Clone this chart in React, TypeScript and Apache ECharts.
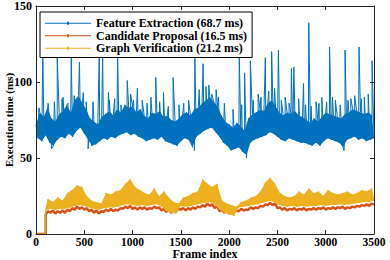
import React, { useEffect, useRef } from "react";
import * as echarts from "echarts";

const seriesNames = [
  "Feature Extraction (68.7 ms)",
  "Candidate Proposal (16.5 ms)",
  "Graph Verification (21.2 ms)",
];

// Feature extraction band: upper envelope at frames 0,40,...; lower envelope at frames 20,60,...
const blueStep = 40;
const blueUpper = [
  72, 80, 77, 83, 76, 74, 79, 81, 85, 80,
  88, 91, 86, 82, 76, 74, 72, 77, 79, 81,
  78, 82, 80, 85, 83, 84, 80, 82, 78, 76,
  80, 79, 81, 77, 78, 75, 74, 76, 79, 80,
  78, 82, 83, 86, 88, 90, 87, 84, 78, 74,
  72, 70, 73, 71, 68, 76, 79, 80, 82, 81,
  86, 88, 84, 80, 78, 80, 79, 81, 78, 77,
  75, 73, 76, 74, 77, 80, 79, 78, 77, 76,
  79, 80, 82, 81, 80, 79, 80, 78,
];
const blueLower = [
  63, 61, 65, 60, 58, 62, 64, 63, 66, 64,
  68, 70, 66, 62, 58, 59, 61, 63, 62, 64,
  63, 65, 66, 67, 65, 66, 64, 63, 61, 62,
  63, 62, 64, 61, 60, 59, 58, 61, 63, 62,
  57, 64, 66, 68, 69, 70, 67, 64, 60, 58,
  55, 56, 57, 54, 52, 60, 62, 63, 64, 65,
  67, 66, 64, 62, 61, 63, 62, 61, 60, 60,
  59, 58, 60, 58, 61, 63, 62, 61, 60, 57,
  62, 63, 64, 62, 63, 61, 62, 63,
];
// Feature extraction tall spikes: [frame, ms]
const blueSpikes = [
  [70, 121], [130, 84], [220, 116], [270, 89], [365, 116], [450, 113], [520, 87],
  [655, 118], [690, 116], [760, 88], [845, 119], [945, 101], [1050, 96], [1100, 88],
  [1240, 103], [1320, 93], [1420, 103], [1480, 85], [1645, 116], [1730, 112],
  [1790, 98], [1865, 95], [1950, 86], [2105, 116], [2160, 106], [2220, 114],
  [2300, 92], [2375, 116], [2440, 120], [2510, 121], [2580, 90], [2645, 109],
  [2670, 110], [2770, 99], [2825, 139], [2900, 87], [2960, 90], [3040, 123],
  [3100, 88], [3200, 121], [3260, 89], [3345, 123], [3400, 90], [3480, 114],
];
// Feature extraction medium needles and dips: [frame, ms]
const blueNeedles = [
  [30, 83], [125, 86], [190, 87], [280, 90], [330, 86], [395, 91], [490, 93],
  [590, 87], [750, 93], [815, 89], [880, 85], [980, 92], [1010, 88], [1150, 86],
  [1190, 90], [1280, 87], [1370, 84], [1530, 86], [1580, 88], [1690, 95],
  [1760, 97], [1820, 92], [1890, 90], [2040, 82], [2130, 85], [2250, 88],
  [2330, 90], [2410, 94], [2470, 96], [2540, 88], [2620, 86], [2720, 89],
  [2790, 85], [2850, 84], [2930, 86], [3010, 87], [3070, 90], [3150, 85],
  [3230, 88], [3300, 91], [3370, 89], [3440, 92],
  [160, 56], [540, 56], [1640, 55], [2180, 50], [3190, 55],
];

// Candidate proposal & graph verification are 0 until frame 100
const idleFrames = [0, 100];
const lowStart = 100;
const orangeStep = 25;
const orangeVals = [
  13, 15, 14, 15.5, 13.5, 15, 14, 15.5,
  14, 16, 15, 17, 16, 18, 16.5, 17.5,
  16, 17, 15, 16, 14, 15.5, 13.5, 15,
  14.5, 16, 15, 16.5, 15, 16, 15.5, 17,
  16.5, 18, 17, 18.5, 16.5, 17.5, 16, 17.5,
  16.5, 17.5, 16, 17, 16.5, 18, 17, 17.5,
  15.5, 16.5, 14.5, 16, 14, 15.5, 15, 16.5,
  16, 17, 15.5, 17, 16, 17.5, 16.5, 18,
  17.5, 19, 18, 20, 18.5, 19.5, 17, 18.5,
  15, 16, 14, 15, 13.5, 14.5, 14, 15.5,
  15, 16.5, 15.5, 16, 16, 17.5, 16.5, 17.5,
  17, 18.5, 18, 19.5, 19, 20.5, 19, 20,
  17, 17.5, 16, 17, 15.5, 16.5, 16, 17,
  15.5, 16.5, 16, 17, 15.5, 16.5, 16, 17,
  16, 17, 16.5, 17.5, 16, 17, 16.5, 17.5,
  16.5, 17.5, 17, 18, 16.5, 17.5, 17, 18,
  17.5, 18.5, 18, 19, 18.5, 19.5, 18.5, 20,
  19.5,
];
// Graph verification band: lower at frames 100,150,...,3500; upper at 125,175,...,3475
const yellowStep = 50;
const yellowLower = [
  15.5, 16.5, 16, 16.5, 16.5, 17.5, 18.5, 19, 18.5, 17.5, 16.5, 16,
  17, 17.5, 17.5, 18, 19, 19.5, 19, 18.5, 19, 18.5, 19, 19.5,
  18, 15, 14, 13.5, 18.5, 18, 18.5, 19, 20, 20.5, 21, 19.5,
  16, 14, 13, 12, 17.5, 18, 18.5, 19, 19.5, 20.5, 21.5, 21.5,
  19.5, 18.5, 18, 18.5, 18, 18.5, 18, 18.5, 18.5, 19, 18.5, 19,
  19, 19.5, 19, 19.5, 20, 20.5, 21, 21, 22,
];
const yellowUpper = [
  23, 21, 24, 22, 27, 29, 32, 31, 25, 22, 21, 20,
  27, 26, 28, 29, 33, 36, 31, 29, 27, 26, 30, 25,
  28, 24, 21, 20, 24, 25, 27, 28, 36, 33, 31, 33,
  22, 20, 19, 18, 21, 22, 24, 25, 28, 34, 37, 33,
  27, 25, 24, 25, 28, 26, 30, 27, 28, 25, 29, 27,
  26, 27, 28, 26, 27, 29, 28, 30,
];

const colors = ["#0072BD", "#D95319", "#EDB120"];
const font = "'Liberation Serif', 'Times New Roman', serif";

function blueUpperPts() {
  return blueUpper.map((v, i) => [i * blueStep, v]);
}
function blueLowerPts() {
  return blueLower.map((v, i) => [i * blueStep + blueStep / 2, v]);
}
function yellowLowerPts() {
  return yellowLower.map((v, i) => [lowStart + i * yellowStep, v]);
}
function yellowUpperPts() {
  return yellowUpper.map((v, i) => [lowStart + i * yellowStep + yellowStep / 2, v]);
}
function interleave(a: number[][], b: number[][]) {
  return a.concat(b).sort((p, q) => p[0] - q[0]);
}
function blueLine() {
  const extra = blueSpikes.concat(blueNeedles).map((p) => [p[0], p[1]]);
  return interleave(interleave(blueUpperPts(), blueLowerPts()), extra);
}
function idle() {
  return idleFrames.map((f) => [f, 0]);
}
function orangeLine() {
  return idle().concat(orangeVals.map((v, i) => [lowStart + i * orangeStep, v]));
}
function yellowLine() {
  return idle().concat(interleave(yellowLowerPts(), yellowUpperPts()));
}

export default function App() {
  const ref = useRef<HTMLDivElement>(null);
  useEffect(() => {
    if (!ref.current) return;
    const chart = echarts.init(ref.current, undefined, { renderer: "svg" });
    const axisColor = "#262626";
    const common = {
      type: "value",
      z: 6,
      splitLine: { show: false },
      axisLine: { show: true, onZero: false, lineStyle: { color: axisColor, width: 1 } },
      axisTick: { show: true, inside: true, length: 4, lineStyle: { color: axisColor } },
    };
    const baseX = { ...common, min: 0, max: 3500, interval: 500 };
    const baseY = { ...common, min: 0, max: 150, interval: 50 };
    const labelStyle = { fontFamily: font, fontWeight: "bold", fontSize: 12, color: "#000" };
    const lineSeries = (name: string, data: number[][], color: string, z: number, width: number) => ({
      name,
      type: "line",
      data,
      symbol: "none",
      clip: true,
      z,
      lineStyle: { color, width },
      itemStyle: { color },
    });
    const band = (key: string, upper: number[][], lower: number[][], color: string, z: number) => ({
      name: key,
      type: "custom",
      z,
      clip: true,
      silent: true,
      data: [[upper[0][0], upper[0][1]]],
      renderItem: (_params: any, api: any) => {
        const pts = upper.map((p) => api.coord(p)).concat(lower.slice().reverse().map((p) => api.coord(p)));
        return { type: "polygon", shape: { points: pts }, style: { fill: color } };
      },
    });
    chart.setOption({
      animation: false,
      grid: { left: 36, right: 16, top: 6, bottom: 26, containLabel: false, outerBoundsMode: "none" },
      legend: {
        left: 40,
        top: 12,
        z: 10,
        orient: "vertical",
        icon: "path://M0,1H46V2H0Z M22,0h2v3h-2Z",
        itemWidth: 46,
        itemHeight: 3,
        itemGap: 0,
        padding: [5, 5, 3, 5],
        borderColor: "#000",
        borderWidth: 1,
        backgroundColor: "#fff",
        textStyle: { ...labelStyle, lineHeight: 12.5 },
        data: seriesNames,
      },
      xAxis: [
        {
          ...baseX,
          position: "bottom",
          axisLabel: { ...labelStyle, fontSize: 11.5, margin: 2, lineHeight: 11, formatter: (v: number) => String(v) },
          name: "Frame index",
          nameLocation: "middle",
          nameGap: 14,
          nameMoveOverlap: false,
          nameTextStyle: { ...labelStyle, fontSize: 12, lineHeight: 11 },
        },
        { ...baseX, position: "top", axisLabel: { show: false } },
      ],
      yAxis: [
        {
          ...baseY,
          position: "left",
          axisLabel: { ...labelStyle, margin: 4 },
          name: "Execution time (ms)",
          nameLocation: "middle",
          nameGap: 22,
          nameMoveOverlap: false,
          nameTextStyle: { ...labelStyle, fontSize: 11 },
        },
        { ...baseY, position: "right", axisLabel: { show: false } },
      ],
      series: [
        band("blueBand", blueUpperPts(), blueLowerPts(), colors[0], 1),
        lineSeries(seriesNames[0], blueLine(), colors[0], 2, 1),
        lineSeries(seriesNames[1], orangeLine(), colors[1], 3, 2.5),
        band("yellowBand", yellowUpperPts(), yellowLowerPts(), colors[2], 4),
        lineSeries(seriesNames[2], yellowLine(), colors[2], 4, 1),
      ],
    });
    return () => chart.dispose();
  }, []);
  return (
    <div
      ref={ref}
      style={{ position: "fixed", left: 0, top: 0, width: 390, height: 260, background: "#fff" }}
    />
  );
}
